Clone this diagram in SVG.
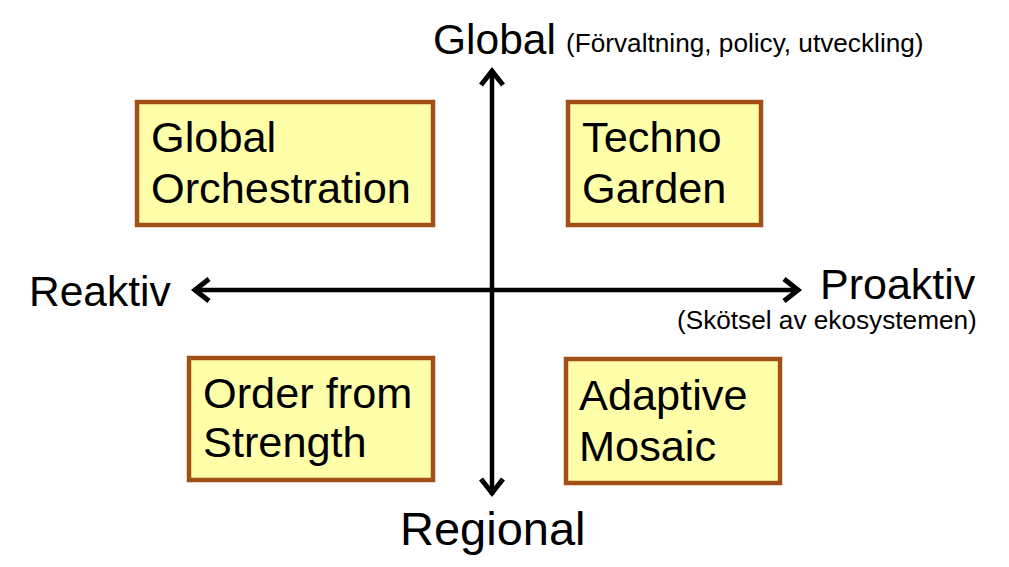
<svg xmlns="http://www.w3.org/2000/svg" width="1009" height="567" viewBox="0 0 1009 567">
  <style>
    .box { fill: #FFFFAA; stroke: #A24F18; stroke-width: 4.5; }
    .bt { font-family: "Liberation Sans", Arial, sans-serif; font-size: 43.3px; fill: #000; }
    .ax { font-family: "Liberation Sans", Arial, sans-serif; font-size: 42.5px; fill: #000; }
    .sm { font-family: "Liberation Sans", Arial, sans-serif; font-size: 26.2px; fill: #000; }
    .axis { stroke: #000; stroke-width: 4.5; fill: none; }
    .head { stroke: #000; stroke-width: 5; fill: none; stroke-linejoin: miter; stroke-linecap: butt; }
  </style>
  <rect width="1009" height="567" fill="#FFFFFF"/>

  <g id="connectors">
    <line class="axis" x1="492" y1="70" x2="492" y2="495"/>
    <line class="axis" x1="194" y1="290" x2="799" y2="290"/>
    <polyline class="head" points="481,85 492,71 503,85"/>
    <polyline class="head" points="481,479 492,493 503,479"/>
    <polyline class="head" points="209,279 195,290 209,301"/>
    <polyline class="head" points="784,279 798,290 784,301"/>
  </g>

  <g id="axis-labels">
    <text class="ax" x="433" y="54">Global</text>
    <text class="sm" x="566" y="52">(Förvaltning, policy, utveckling)</text>
    <text class="ax" x="29" y="306">Reaktiv</text>
    <text class="ax" x="820" y="299" style="font-size:43px">Proaktiv</text>
    <text class="sm" x="677" y="329">(Skötsel av ekosystemen)</text>
    <text class="ax" x="400" y="545" style="font-size:47px">Regional</text>
  </g>

  <g id="global-orchestration">
    <rect class="box" x="137" y="102" width="296" height="123"/>
    <text class="bt" x="151" y="152">Global</text>
    <text class="bt" x="151" y="203">Orchestration</text>
  </g>

  <g id="techno-garden">
    <rect class="box" x="568" y="102" width="193" height="123"/>
    <text class="bt" x="582" y="152">Techno</text>
    <text class="bt" x="582" y="203">Garden</text>
  </g>

  <g id="order-from-strength">
    <rect class="box" x="189" y="358" width="244" height="122"/>
    <text class="bt" x="203" y="408">Order from</text>
    <text class="bt" x="203" y="457">Strength</text>
  </g>

  <g id="adaptive-mosaic">
    <rect class="box" x="566" y="359" width="214" height="124"/>
    <text class="bt" x="579" y="410">Adaptive</text>
    <text class="bt" x="579" y="461">Mosaic</text>
  </g>
</svg>
